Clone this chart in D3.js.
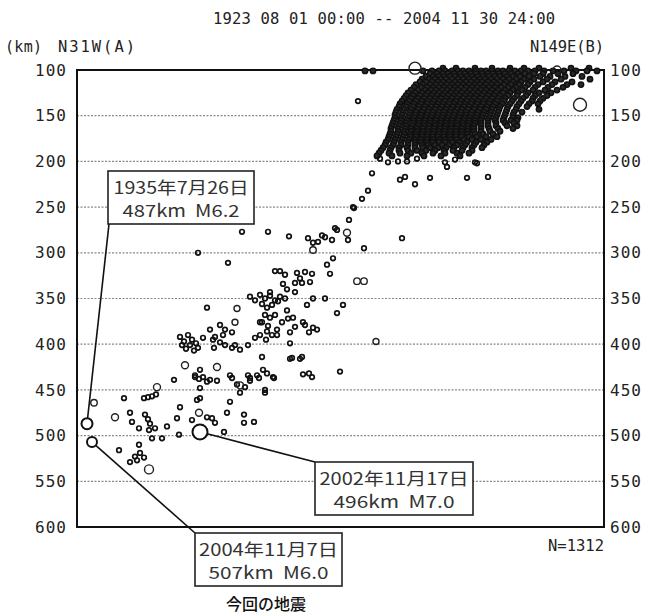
<!DOCTYPE html>
<html>
<head>
<meta charset="utf-8">
<script src="https://cdn.jsdelivr.net/npm/d3@7"></script>
<style>
    body { margin: 0; background: #fff; }
    svg { display: block; }
    text { white-space: pre; }
</style>
</head>
<body>
<svg id="chart" width="651" height="614"></svg>
<script>
var depthTicks = [100, 150, 200, 250, 300, 350, 400, 450, 500, 550, 600];
var distRange = [0, 527];   // km along A-B (not labelled in the figure)
var periodLabel = '1923 08 01 00:00 -- 2004 11 30 24:00';
var endLabels = ['N31W(A)', 'N149E(B)'];
var unitLabel = '(km)';
var countLabel = 'N=1312';
var footLabel = '今回の地震';

// annotated events: [dist, depth, mag]
var keyEvents = [[10, 487, 6.2], [123, 496, 7.0], [15, 507, 6.0]];
var keyDates = ['1935年7月26日', '2002年11月17日', '2004年11月7日'];
var keyInfo = ['487km  M6.2', '496km  M7.0', '507km  M6.0'];

// other M5+ events (open circles): [dist, depth, mag]
var largerEvents = [
    [338, 98, 6.4], [503, 138, 6.6], [480, 100, 5.6], [465, 128, 5.2],
    [270, 278, 5.4], [236, 297, 5.3], [280, 331, 5.3], [287, 331, 5.3], [299, 397, 5.2],
    [160, 361, 5.2], [158, 376, 5.2], [108, 423, 5.4], [140, 425, 5.4],
    [163, 445, 5.4], [80, 447, 5.4], [17, 464, 5.3], [38, 480, 5.4], [122, 475, 5.4], [72, 537, 5.8]
];

// shallow cluster, by rows: [depth, [dist, ...]]
var clusterRows = [
    [98, [366, 379, 398, 415, 433, 447, 462, 494, 512]],
    [101, [288, 296, 346, 355, 362, 368, 375, 381, 386, 392, 399, 404, 409, 415, 421, 426, 432, 438, 444, 451, 458, 467, 476, 487, 499, 510, 520]],
    [104, [353, 360, 366, 371, 377, 383, 388, 394, 399, 405, 411, 416, 422, 428, 434, 441, 448, 457, 466, 481, 496]],
    [107, [349, 356, 362, 367, 373, 378, 384, 390, 395, 401, 406, 412, 418, 423, 430, 436, 443, 452, 463, 473, 488, 505]],
    [110, [345, 352, 358, 364, 369, 375, 381, 386, 392, 397, 403, 408, 414, 420, 426, 432, 439, 447, 457, 470, 484, 513]],
    [113, [343, 349, 355, 361, 366, 372, 378, 383, 389, 394, 400, 405, 411, 417, 423, 429, 436, 444, 453, 466, 478, 495]],
    [116, [339, 346, 353, 359, 364, 370, 375, 381, 386, 392, 398, 403, 409, 414, 420, 427, 434, 442, 451, 461, 475, 490, 504]],
    [119, [337, 344, 350, 356, 362, 367, 373, 378, 384, 389, 395, 400, 406, 412, 418, 424, 431, 439, 448, 458, 471, 486]],
    [122, [334, 341, 348, 354, 359, 365, 370, 376, 381, 387, 393, 398, 404, 409, 415, 421, 428, 436, 445, 456, 468, 480]],
    [125, [331, 338, 345, 351, 357, 362, 368, 374, 379, 385, 390, 396, 401, 407, 413, 419, 426, 433, 441, 451, 462, 474]],
    [128, [329, 336, 343, 349, 355, 360, 366, 371, 377, 382, 388, 393, 399, 405, 411, 417, 423, 431, 440, 449, 458, 470]],
    [131, [327, 334, 341, 347, 353, 358, 364, 369, 375, 380, 386, 392, 397, 403, 409, 415, 421, 428, 437, 446, 456, 466]],
    [134, [325, 332, 339, 345, 351, 357, 362, 368, 373, 379, 384, 390, 395, 401, 407, 413, 420, 427, 435, 444, 455, 463]],
    [137, [323, 330, 337, 344, 350, 355, 361, 366, 372, 377, 383, 388, 394, 400, 406, 412, 418, 425, 433, 442, 452, 461]],
    [140, [322, 329, 336, 342, 348, 354, 359, 365, 370, 376, 381, 387, 392, 398, 404, 410, 416, 423, 431, 440, 450]],
    [143, [320, 327, 334, 341, 347, 352, 358, 363, 369, 374, 380, 385, 391, 397, 403, 409, 415, 422, 430, 439, 462]],
    [146, [319, 326, 333, 339, 345, 351, 356, 362, 367, 373, 378, 384, 389, 395, 401, 407, 414, 421, 429, 437, 445]],
    [149, [318, 325, 332, 338, 344, 350, 355, 361, 366, 372, 377, 383, 389, 394, 400, 406, 413, 420, 428, 436]],
    [152, [318, 324, 331, 337, 343, 349, 354, 360, 365, 371, 376, 382, 388, 393, 399, 405, 412, 419, 427, 436, 441]],
    [155, [317, 324, 330, 336, 342, 348, 353, 359, 364, 370, 375, 381, 387, 392, 398, 404, 411, 418, 426, 434, 440]],
    [158, [316, 323, 329, 336, 342, 347, 353, 358, 364, 369, 375, 380, 386, 392, 398, 404, 411, 419, 428, 437]],
    [161, [315, 322, 329, 335, 341, 347, 352, 358, 363, 369, 374, 380, 386, 391, 397, 404, 411, 419, 430, 440]],
    [164, [314, 321, 328, 334, 340, 346, 352, 357, 363, 368, 374, 379, 385, 391, 397, 404, 412, 421, 436]],
    [167, [314, 321, 327, 334, 340, 346, 351, 357, 362, 368, 373, 379, 385, 391, 397, 404, 413, 423]],
    [170, [313, 320, 327, 333, 339, 345, 351, 356, 362, 367, 373, 379, 385, 391, 398, 406, 416]],
    [173, [312, 319, 326, 333, 339, 345, 350, 356, 361, 367, 373, 379, 385, 392, 400, 409, 420]],
    [176, [311, 318, 325, 332, 338, 344, 350, 356, 362, 368, 374, 380, 387, 395, 404, 414]],
    [179, [309, 317, 324, 331, 338, 344, 350, 356, 362, 368, 375, 382, 390, 399, 410]],
    [182, [308, 316, 324, 331, 338, 345, 351, 358, 365, 372, 380, 388, 397, 407]],
    [185, [306, 314, 322, 330, 338, 346, 353, 361, 369, 377, 386, 395, 405]],
    [188, [304, 313, 322, 331, 340, 349, 358, 367, 376, 385, 395]],
    [191, [302, 312, 323, 334, 345, 356, 368, 380, 392]],
    [194, [300, 315, 330, 347, 364, 383]]
];

// deeper events along the slab: [dist, depth]
var slabEvents = [
    [281, 134], [303, 197], [311, 201], [321, 200], [330, 200], [340, 197], [368, 201], [378, 198], [398, 201], [400, 202],
    [295, 213], [323, 220], [328, 217], [338, 225], [353, 218], [390, 218], [411, 217], [370, 206],
    [291, 232], [285, 241], [276, 250], [277, 251], [272, 264], [258, 273], [271, 286], [260, 275],
    [325, 284], [287, 295], [248, 283], [245, 281], [241, 288], [255, 286], [236, 289], [231, 284],
    [212, 282], [191, 277], [165, 277], [121, 300], [151, 311],
    [250, 313], [256, 306], [253, 323], [198, 320], [203, 320], [208, 324], [220, 322], [228, 321], [235, 323],
    [206, 334], [218, 333], [223, 328], [225, 333], [233, 332], [210, 340], [193, 343], [218, 343],
    [173, 348], [178, 352], [183, 346], [188, 350], [193, 347], [198, 352], [203, 348], [208, 350], [185, 356], [195, 357], [201, 353], [190, 360],
    [236, 350], [248, 350], [266, 357], [260, 366], [230, 357],
    [130, 360], [188, 368], [193, 371], [198, 368], [185, 376], [191, 380],
    [210, 363], [211, 372], [205, 376], [216, 371], [226, 376], [228, 379],
    [236, 382], [240, 384], [232, 387], [200, 384], [195, 390], [189, 395], [200, 390], [213, 399],
    [143, 379], [148, 384], [155, 387], [133, 384], [126, 393], [146, 390], [136, 395], [183, 376], [213, 387], [218, 381],
    [103, 392], [107, 397], [111, 390], [115, 395], [119, 399], [105, 401], [109, 405], [113, 401], [117, 407], [121, 404],
    [138, 392], [143, 398], [137, 404], [148, 401], [158, 401], [163, 406], [155, 404], [171, 401], [178, 393], [183, 390], [190, 386],
    [215, 415], [225, 414], [185, 414], [213, 416], [223, 416], [263, 430], [196, 436], [226, 433], [232, 432], [235, 436], [186, 428],
    [123, 428], [118, 436], [140, 440], [155, 437], [171, 434], [180, 434], [173, 440],
    [160, 444], [168, 447], [188, 450], [97, 439], [118, 434], [122, 438], [126, 436], [130, 441], [133, 439], [153, 434], [173, 437], [182, 437], [190, 432], [197, 437],
    [47, 459], [67, 459], [71, 458], [75, 457], [79, 455], [153, 463], [163, 453], [188, 453], [123, 459], [123, 448],
    [53, 475], [55, 485], [62, 492], [68, 477], [71, 482], [73, 487], [72, 494], [78, 492], [75, 503], [85, 503], [90, 490], [100, 481],
    [103, 469], [102, 499], [115, 483], [135, 481], [138, 486], [147, 496], [167, 477], [167, 486], [177, 485], [150, 475], [130, 480], [120, 461],
    [42, 516], [53, 529], [58, 523], [62, 510], [63, 519], [67, 524], [60, 527]
];

var plot = {left: 77, right: 604, top: 70, bottom: 527};
var monoFont = '"DejaVu Sans Mono", monospace';
var cjkFont = '"Noto Sans CJK JP", sans-serif';

var x = d3.scaleLinear().domain(distRange).range([plot.left, plot.right]);
var y = d3.scaleLinear().domain([depthTicks[0], depthTicks[depthTicks.length - 1]]).range([plot.top, plot.bottom]);
var r = d3.scaleLinear().domain([5, 7]).range([2.5, 7.5]);

var svg = d3.select('#chart');

// header texts
svg.append('text').attr('x', 213).attr('y', 24).attr('textLength', 342)
    .attr('font-family', monoFont).attr('font-size', 15.5).attr('fill', '#222')
    .text(periodLabel);
svg.append('text').attr('x', 5).attr('y', 52).attr('textLength', 37)
    .attr('font-family', monoFont).attr('font-size', 15).attr('fill', '#222')
    .text(unitLabel);
svg.append('text').attr('x', 58).attr('y', 52).attr('textLength', 77)
    .attr('font-family', monoFont).attr('font-size', 15.5).attr('fill', '#222')
    .text(endLabels[0]);
svg.append('text').attr('x', 530).attr('y', 52).attr('textLength', 74)
    .attr('font-family', monoFont).attr('font-size', 15.5).attr('fill', '#222')
    .text(endLabels[1]);

// grid
svg.append('g').selectAll('line')
    .data(depthTicks.slice(1, -1))
    .enter().append('line')
    .attr('x1', plot.left).attr('x2', plot.right)
    .attr('y1', function(d) { return y(d); }).attr('y2', function(d) { return y(d); })
    .attr('stroke', '#888').attr('stroke-width', 1.2).attr('stroke-dasharray', '2,1.5');

// depth axes on both sides
function depthAxis(axis, xPos, pad) {
    var g = svg.append('g')
        .attr('transform', 'translate(' + xPos + ',0)')
        .call(axis.tickValues(depthTicks).tickSize(0).tickPadding(pad));
    g.select('.domain').remove();
    g.selectAll('text').attr('font-family', monoFont).attr('font-size', 16)
        .attr('fill', '#222').attr('textLength', 31);
}
depthAxis(d3.axisLeft(y), plot.left, 11);
depthAxis(d3.axisRight(y), plot.right, 6);

// frame
svg.append('rect')
    .attr('x', plot.left).attr('y', plot.top)
    .attr('width', plot.right - plot.left).attr('height', plot.bottom - plot.top)
    .attr('fill', 'none').attr('stroke', '#111').attr('stroke-width', 2);

// small events: the shallow cluster overlaps into a solid mass
var clusterEvents = [];
clusterRows.forEach(function(row) {
    row[1].forEach(function(d) { clusterEvents.push([d, row[0]]); });
});

function drawSmall(data, radius, sw, fill) {
    svg.append('g').selectAll('circle')
        .data(data)
        .enter().append('circle')
        .attr('cx', function(d) { return x(d[0]); })
        .attr('cy', function(d) { return y(d[1]); })
        .attr('r', radius)
        .attr('fill', fill).attr('stroke', '#111').attr('stroke-width', sw);
}
drawSmall(clusterEvents, 2.6, 1.6, '#2a2a2a');
drawSmall(slabEvents, 2.3, 1.7, 'none');

svg.append('g').selectAll('circle')
    .data(largerEvents)
    .enter().append('circle')
    .attr('cx', function(d) { return x(d[0]); })
    .attr('cy', function(d) { return y(d[1]); })
    .attr('r', function(d) { return r(d[2]); })
    .attr('fill', 'none').attr('stroke', '#222').attr('stroke-width', 1.4);

// annotated events with leader lines and boxes
var noteBoxes = [
    {x: 108, y: 171, w: 146, h: 53, cx: 109, cy: 224},
    {x: 315, y: 462, w: 158, h: 53, cx: 315, cy: 462},
    {x: 195, y: 533, w: 147, h: 53, cx: 195, cy: 533}
];
var dateWidths = [135, 149, 139];
var infoWidths = [117, 121, 120];

keyEvents.forEach(function(e, i) {
    var b = noteBoxes[i];
    var ex = x(e[0]), ey = y(e[1]), er = r(e[2]);
    var ang = Math.atan2(b.cy - ey, b.cx - ex);

    svg.append('line')
        .attr('x1', ex + er * Math.cos(ang)).attr('y1', ey + er * Math.sin(ang))
        .attr('x2', b.cx).attr('y2', b.cy)
        .attr('stroke', '#111').attr('stroke-width', 1.6);

    svg.append('circle')
        .attr('cx', ex).attr('cy', ey).attr('r', er)
        .attr('fill', '#fff').attr('stroke', '#111').attr('stroke-width', 2);

    svg.append('rect')
        .attr('x', b.x).attr('y', b.y).attr('width', b.w).attr('height', b.h)
        .attr('fill', '#fff').attr('stroke', '#222').attr('stroke-width', 1.6);

    svg.append('text')
        .attr('x', b.x + b.w / 2 - dateWidths[i] / 2).attr('y', b.y + 23)
        .attr('textLength', dateWidths[i]).attr('lengthAdjust', 'spacingAndGlyphs')
        .attr('font-family', cjkFont).attr('font-size', 17).attr('fill', '#333')
        .text(keyDates[i]);
    svg.append('text')
        .attr('x', b.x + b.w / 2 - infoWidths[i] / 2).attr('y', b.y + 46)
        .attr('textLength', infoWidths[i]).attr('lengthAdjust', 'spacingAndGlyphs')
        .attr('font-family', cjkFont).attr('font-size', 17).attr('fill', '#333')
        .text(keyInfo[i]);
});

// footer texts
svg.append('text').attr('x', 604).attr('y', 551).attr('text-anchor', 'end')
    .attr('font-family', monoFont).attr('font-size', 15.5).attr('fill', '#222')
    .text(countLabel);
svg.append('text').attr('x', 266).attr('y', 610).attr('text-anchor', 'middle')
    .attr('font-family', cjkFont).attr('font-size', 16).attr('font-weight', 500).attr('fill', '#111')
    .text(footLabel);
</script>
</body>
</html>
